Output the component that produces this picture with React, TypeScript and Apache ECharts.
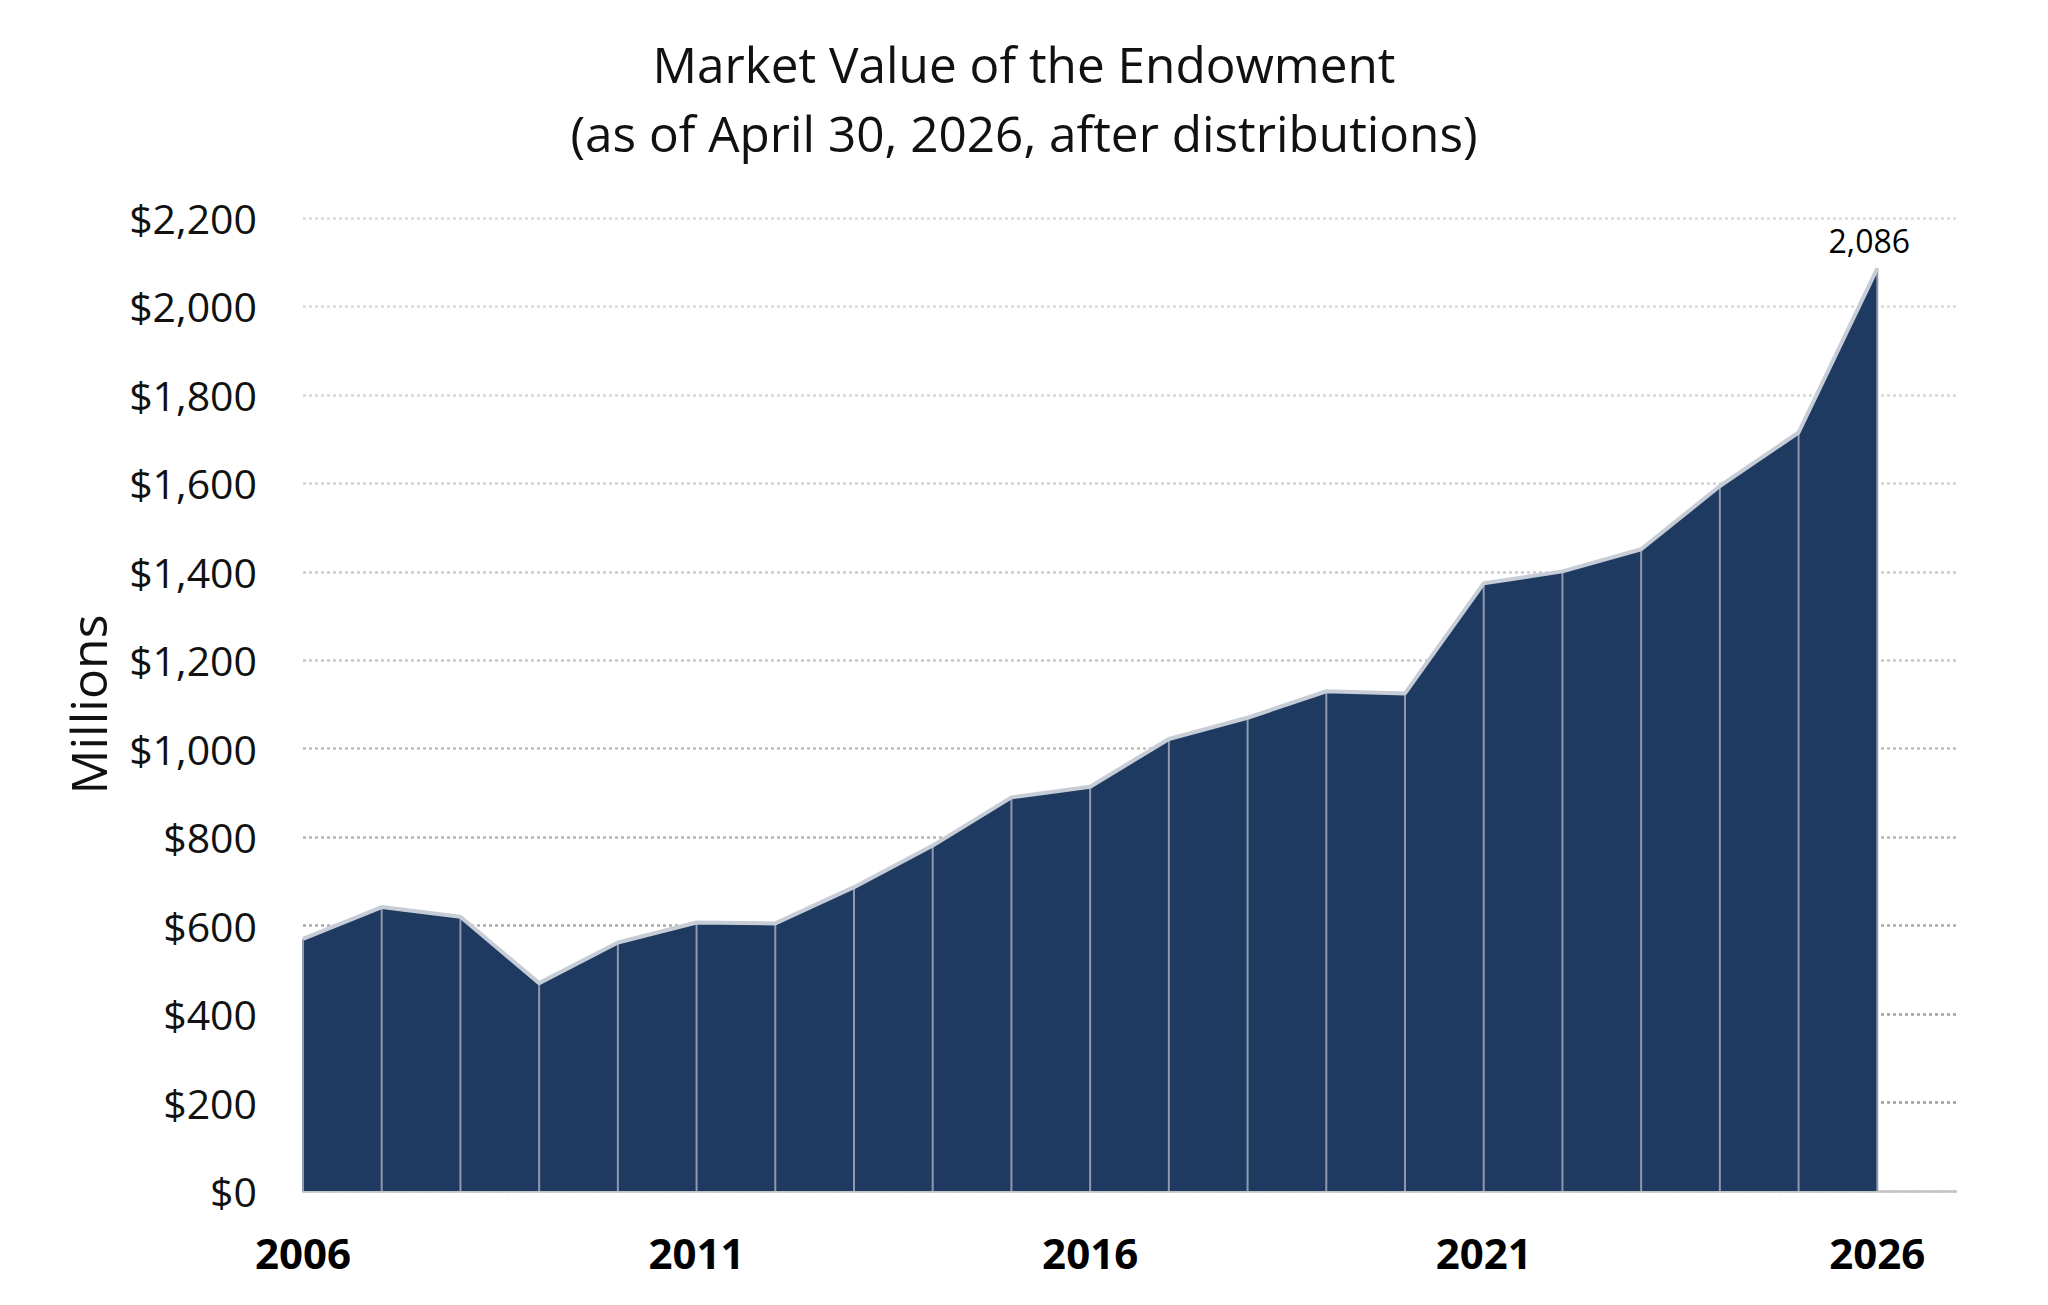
import React, { useEffect, useRef } from "react";
import * as echarts from "echarts";

const years = ["2006","2007","2008","2009","2010","2011","2012","2013","2014","2015","2016","2017","2018","2019","2020","2021","2022","2023","2024","2025","2026","2027"];
const values = [570, 642, 620, 470, 562, 607, 605, 687, 781, 890, 914, 1022, 1070, 1130, 1125, 1374, 1401, 1451, 1594, 1715, 2086];
const titleLines = ["Market Value of the Endowment", "(as of April 30, 2026, after distributions)"];
const yName = "Millions";

const FONT = "'Open Sans', 'Noto Sans', sans-serif";

export default function App() {
  const ref = useRef<HTMLDivElement>(null);
  useEffect(() => {
    if (!ref.current) return;
    const chart = echarts.init(ref.current, null, { renderer: "svg" });
    const last = values.length - 1;
    chart.setOption({
      animation: false,
      backgroundColor: "#ffffff",
      title: {
        text: titleLines.join("\n"),
        left: "center",
        top: 24,
        textStyle: { fontFamily: FONT, fontSize: 49.5, fontWeight: "normal", color: "#111111", lineHeight: 69.5 },
      },
      grid: { left: 303, right: 92, top: 218, bottom: 114, containLabel: false },
      xAxis: {
        type: "category",
        data: years,
        boundaryGap: false,
        axisLine: { show: true, lineStyle: { color: "#c4c4c4", width: 2.5 } },
        axisTick: { show: false },
        axisLabel: { interval: 4, margin: 40, fontFamily: FONT, fontSize: 42, fontWeight: "bold", color: "#000000" },
        splitLine: { show: false },
      },
      yAxis: {
        type: "value",
        min: 0,
        max: 2200,
        interval: 200,
        name: yName,
        nameLocation: "middle",
        nameRotate: 90,
        nameGap: 190,
        nameTextStyle: { fontFamily: FONT, fontSize: 50, color: "#111111" },
        axisLine: { show: false },
        axisTick: { show: false },
        axisLabel: {
          margin: 46,
          fontFamily: FONT,
          fontSize: 41,
          color: "#111111",
          formatter: (v: number) => "$" + v.toLocaleString("en-US"),
        },
        splitLine: {
          show: true,
          lineStyle: {
            type: [3, 3],
            width: 2.5,
            color: ["#c4c4c4", "#9c9c9c", "#a2a2a2", "#aaaaaa", "#b4b4b4", "#bebebe", "#c6c6c6", "#cccccc", "#d2d2d2", "#d6d6d6", "#dadada", "#dcdcdc"],
          },
        },
      },
      series: [
        {
          type: "line",
          data: values,
          symbol: "none",
          lineStyle: { width: 0, opacity: 0 },
          areaStyle: { color: "#1f3a60", opacity: 1 },
          z: 1,
        },
        {
          type: "bar",
          data: values,
          barWidth: 2,
          itemStyle: { color: "#8d99ad" },
          z: 2,
        },
        {
          type: "line",
          data: values,
          symbol: "none",
          lineStyle: { width: 4, color: "#c7cdd7" },
          z: 3,
        },
        {
          type: "scatter",
          data: values.map((v, i) => (i === last ? v : "-")),
          symbol: "circle",
          symbolSize: 2,
          itemStyle: { color: "rgba(0,0,0,0)", opacity: 1 },
          label: {
            show: true,
            position: "top",
            distance: 11,
            offset: [-8, 0],
            opacity: 1,
            fontFamily: FONT,
            fontSize: 32,
            color: "#000000",
            formatter: (p: any) => Number(p.value).toLocaleString("en-US"),
          },
          z: 4,
        },
      ],
    });
    return () => chart.dispose();
  }, []);
  return <div ref={ref} style={{ position: "absolute", left: 0, top: 0, width: 2048, height: 1305 }} />;
}
